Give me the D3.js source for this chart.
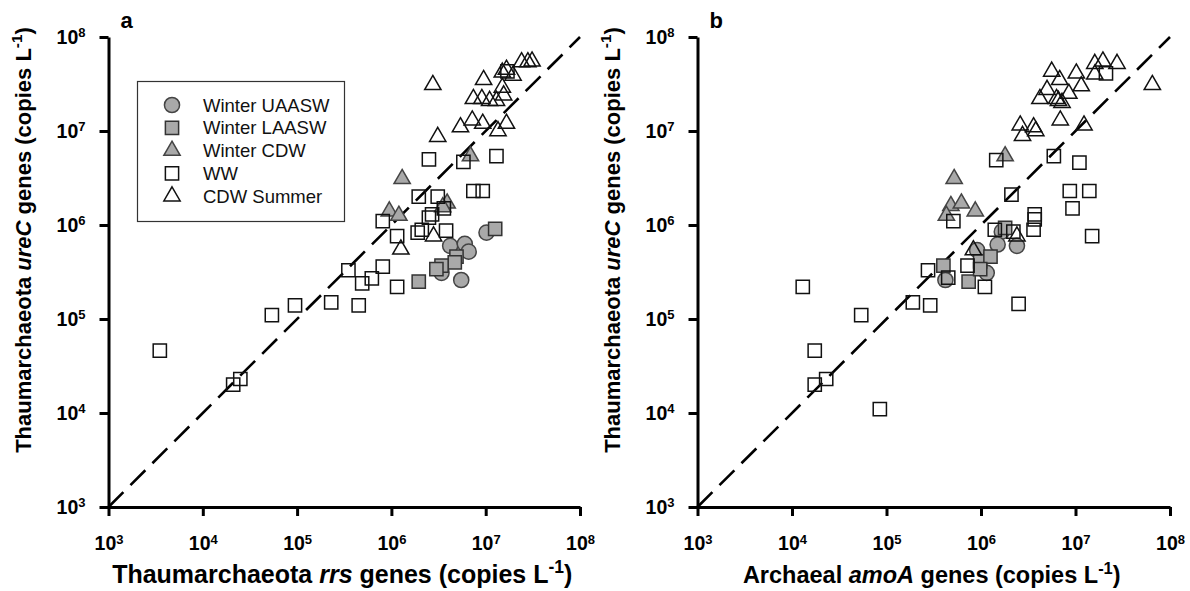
<!DOCTYPE html>
<html>
<head>
<meta charset="utf-8">
<script src="https://cdn.jsdelivr.net/npm/d3@7"></script>
<style>
  body { margin: 0; background: #fff; }
  text { font-family: Arial, "Liberation Sans", sans-serif; }
</style>
</head>
<body>
<script>
// legend names
var seriesNames = ["Winter UAASW", "Winter LAASW", "Winter CDW", "WW", "CDW Summer"];
var tickVals = [1e3, 1e4, 1e5, 1e6, 1e7, 1e8];

// panel a : [rrs, ureC]
var aUAASW = [[4.2e6, 6.0e5], [6.0e6, 6.3e5], [6.6e6, 5.2e5], [3.4e6, 3.1e5], [5.5e6, 2.6e5], [1.02e7, 8.3e5]];
var aLAASW = [[1.26e7, 9.1e5], [4.9e6, 4.6e5], [4.7e6, 4.0e5], [3.4e6, 3.7e5], [3.0e6, 3.4e5], [1.95e6, 2.5e5]];
var aCDW = [[1.3e6, 3.1e6], [9.5e5, 1.4e6], [1.2e6, 1.26e6], [3.9e6, 1.7e6], [3.5e6, 1.55e6], [6.9e6, 5.4e6]];
var aWW = [[3.5e3, 4.6e4], [2.1e4, 2.0e4], [2.5e4, 2.3e4], [5.4e4, 1.1e5], [9.5e4, 1.4e5], [2.3e5, 1.5e5],
    [4.5e5, 1.4e5], [3.5e5, 3.3e5], [4.9e5, 2.4e5], [6.2e5, 2.7e5], [8.1e5, 3.6e5], [1.15e6, 2.2e5],
    [1.15e6, 7.6e5], [8.1e5, 1.1e6], [1.9e6, 8.3e5], [2.1e6, 8.9e5], [2.5e6, 1.2e6], [2.7e6, 1.3e6],
    [3.8e6, 8.7e5], [1.95e6, 2.0e6], [3.1e6, 2.0e6], [3.6e6, 1.5e6], [2.5e6, 5.0e6], [5.8e6, 4.7e6],
    [1.3e7, 5.4e6], [7.4e6, 2.3e6], [9.3e6, 2.3e6], [1.7e7, 4.3e7]];
var aSummer = [[2.75e6, 3.1e7], [3.1e6, 8.7e6], [2.8e6, 7.6e5], [1.26e6, 5.5e5], [5.4e6, 1.1e7], [7.2e6, 1.3e7],
    [9.3e6, 1.2e7], [1.35e7, 1.0e7], [1.66e7, 1.2e7], [7.4e6, 2.2e7], [9.1e6, 2.2e7], [1.1e7, 2.1e7],
    [1.3e7, 2.1e7], [1.55e7, 2.4e7], [1.5e7, 2.9e7], [9.5e6, 3.5e7], [1.5e7, 4.2e7], [1.66e7, 4.5e7],
    [1.95e7, 3.9e7], [2.4e7, 5.4e7], [2.8e7, 5.4e7], [3.1e7, 5.5e7]];

// panel b : [amoA, ureC]
var bUAASW = [[4.2e5, 2.6e5], [1.66e6, 8.5e5], [1.5e6, 6.2e5], [2.4e6, 6.0e5], [9.1e5, 5.4e5], [1.15e6, 3.1e5]];
var bLAASW = [[4.0e5, 3.7e5], [7.4e5, 2.5e5], [9.8e5, 4.1e5], [1.26e6, 4.6e5], [9.8e5, 3.4e5], [1.8e6, 9.3e5]];
var bCDW = [[5.2e5, 3.1e6], [4.8e5, 1.6e6], [6.2e5, 1.7e6], [4.3e5, 1.26e6], [8.7e5, 1.4e6], [1.8e6, 5.4e6]];
var bWW = [[1.3e4, 2.2e5], [1.74e4, 4.6e4], [1.74e4, 2.0e4], [2.3e4, 2.3e4], [5.4e4, 1.1e5], [8.5e4, 1.1e4],
    [1.9e5, 1.5e5], [2.9e5, 1.4e5], [2.5e6, 1.45e5], [1.1e6, 2.2e5], [2.75e5, 3.3e5], [7.2e5, 3.7e5],
    [4.5e5, 2.75e5], [5.1e5, 1.1e6], [1.4e6, 8.9e5], [2.2e6, 8.5e5], [3.6e6, 8.9e5], [3.7e6, 1.15e6],
    [3.7e6, 1.3e6], [2.1e6, 2.1e6], [1.45e6, 4.9e6], [5.9e6, 5.4e6], [1.1e7, 4.6e6], [8.7e6, 2.3e6],
    [1.4e7, 2.3e6], [9.3e6, 1.5e6], [1.5e7, 7.6e5], [2.1e7, 4.1e7]];
var bSummer = [[8.3e5, 5.4e5], [2.4e6, 7.6e5], [2.6e6, 1.15e7], [2.75e6, 8.9e6], [3.6e6, 1.1e7], [3.8e6, 1.0e7],
    [5.6e6, 4.3e7], [5.0e6, 2.75e7], [4.2e6, 2.2e7], [6.3e6, 2.2e7], [6.6e6, 2.1e7], [7.2e6, 2.0e7],
    [6.9e6, 1.3e7], [6.8e6, 3.5e7], [1.02e7, 4.1e7], [1.15e7, 3.0e7], [8.5e6, 2.5e7], [1.23e7, 1.15e7],
    [1.6e7, 5.2e7], [1.95e7, 5.5e7], [2.75e7, 5.2e7], [1.6e7, 4.0e7], [6.5e7, 3.1e7]];

var W = 1190, H = 591;
var grey = "#a9a9a9";

// marker style per series (same order as seriesNames)
var styles = [
    { type: d3.symbolCircle, size: 180, fill: grey, stroke: "#444" },
    { type: d3.symbolSquare, size: 175, fill: grey, stroke: "#333" },
    { type: d3.symbolTriangle, size: 115, fill: grey, stroke: "#444" },
    { type: d3.symbolSquare, size: 175, fill: "none", stroke: "#111" },
    { type: d3.symbolTriangle, size: 115, fill: "none", stroke: "#111" }
];

var svg = d3.select("body").append("svg")
    .attr("width", W)
    .attr("height", H);

var y = d3.scaleLog().domain([1e3, 1e8]).range([507, 37]);

// title with italic gene name and superscript -1
function writeTitle(el, parts, size) {
    var shift = size * 0.4;
    parts.forEach(function (p) {
        var s = el.append("tspan").text(p[0]);
        if (p[1] == "i") s.attr("font-style", "italic");
        if (p[1] == "sup") s.attr("dy", -shift).attr("font-size", size * 0.7);
        if (p[1] == "after") s.attr("dy", shift);
    });
}

function drawPanel(x0, x1, letter, xTitle, xSize, yTitle, sets) {
    var x = d3.scaleLog().domain([1e3, 1e8]).range([x0, x1]);
    var g = svg.append("g");

    // 1:1 line
    g.append("line")
        .attr("x1", x(1e3)).attr("y1", y(1e3))
        .attr("x2", x(1e8)).attr("y2", y(1e8))
        .attr("stroke", "#000")
        .attr("stroke-width", 2.6)
        .attr("stroke-dasharray", "21,10");

    sets.forEach(function (pts, i) {
        var st = styles[i];
        g.append("g").selectAll("path")
            .data(pts)
            .enter()
            .append("path")
            .attr("d", d3.symbol().type(st.type).size(st.size))
            .attr("transform", function (d) { return "translate(" + x(d[0]) + "," + y(d[1]) + ")"; })
            .attr("fill", st.fill)
            .attr("stroke", st.stroke)
            .attr("stroke-width", 1.5);
    });

    // axes
    var xa = g.append("g")
        .attr("transform", "translate(0," + y(1e3) + ")")
        .call(d3.axisBottom(x).tickValues(tickVals).tickSizeInner(9).tickSizeOuter(0).tickPadding(14));
    var ya = g.append("g")
        .attr("transform", "translate(" + x(1e3) + ",0)")
        .call(d3.axisLeft(y).tickValues(tickVals).tickSizeInner(9).tickSizeOuter(0).tickPadding(14));

    [xa, ya].forEach(function (a) {
        a.select(".domain").attr("stroke-width", 3);
        a.selectAll(".tick line").attr("stroke-width", 3);
        a.selectAll(".tick text").each(function (d) {
            var t = d3.select(this).text(null)
                .attr("font-size", 19.5)
                .attr("font-weight", "bold")
                .attr("fill", "#000")
                .attr("font-family", "Arial, 'Liberation Sans', sans-serif");
            t.append("tspan").text("10");
            t.append("tspan").attr("dy", "-0.5em").attr("font-size", 13).text(Math.round(Math.log10(d)));
        });
    });
    xa.selectAll(".tick text").attr("dy", "1.05em");

    // panel letter
    g.append("text")
        .attr("x", x0 + 12).attr("y", 28)
        .attr("font-size", 22).attr("font-weight", "bold")
        .text(letter);

    // x title
    var xt = g.append("text")
        .attr("x", (x0 + x1) / 2 - 2).attr("y", 583)
        .attr("text-anchor", "middle")
        .attr("font-size", xSize).attr("font-weight", "bold");
    writeTitle(xt, xTitle, xSize);

    // y title
    var yt = g.append("text")
        .attr("transform", "translate(" + (x0 - 78) + ",240) rotate(-90)")
        .attr("text-anchor", "middle")
        .attr("font-size", 22).attr("font-weight", "bold");
    writeTitle(yt, yTitle, 22);
}

var yTitle = [["Thaumarchaeota "], ["ureC", "i"], [" genes (copies L"], ["-1", "sup"], [")", "after"]];

drawPanel(108.5, 580, "a",
    [["Thaumarchaeota "], ["rrs", "i"], [" genes (copies L"], ["-1", "sup"], [")", "after"]], 25,
    yTitle, [aUAASW, aLAASW, aCDW, aWW, aSummer]);

drawPanel(697.5, 1170, "b",
    [["Archaeal "], ["amoA", "i"], [" genes (copies L"], ["-1", "sup"], [")", "after"]], 23.5,
    yTitle, [bUAASW, bLAASW, bCDW, bWW, bSummer]);

// legend
var leg = svg.append("g");
leg.append("rect")
    .attr("x", 137.5).attr("y", 81.5)
    .attr("width", 207).attr("height", 140)
    .attr("fill", "#fff")
    .attr("stroke", "#333")
    .attr("stroke-width", 1.2);

var rows = leg.selectAll(".row")
    .data(seriesNames)
    .enter()
    .append("g")
    .attr("class", "row")
    .attr("transform", function (d, i) { return "translate(172," + (105 + i * 22.8) + ")"; });

rows.append("path")
    .attr("d", function (d, i) { return d3.symbol().type(styles[i].type).size(styles[i].size)(); })
    .attr("fill", function (d, i) { return styles[i].fill; })
    .attr("stroke", function (d, i) { return styles[i].stroke; })
    .attr("stroke-width", 1.5);

rows.append("text")
    .attr("x", 31).attr("y", 6.5)
    .attr("font-size", 18.5)
    .attr("fill", "#111")
    .text(function (d) { return d; });
</script>
</body>
</html>
